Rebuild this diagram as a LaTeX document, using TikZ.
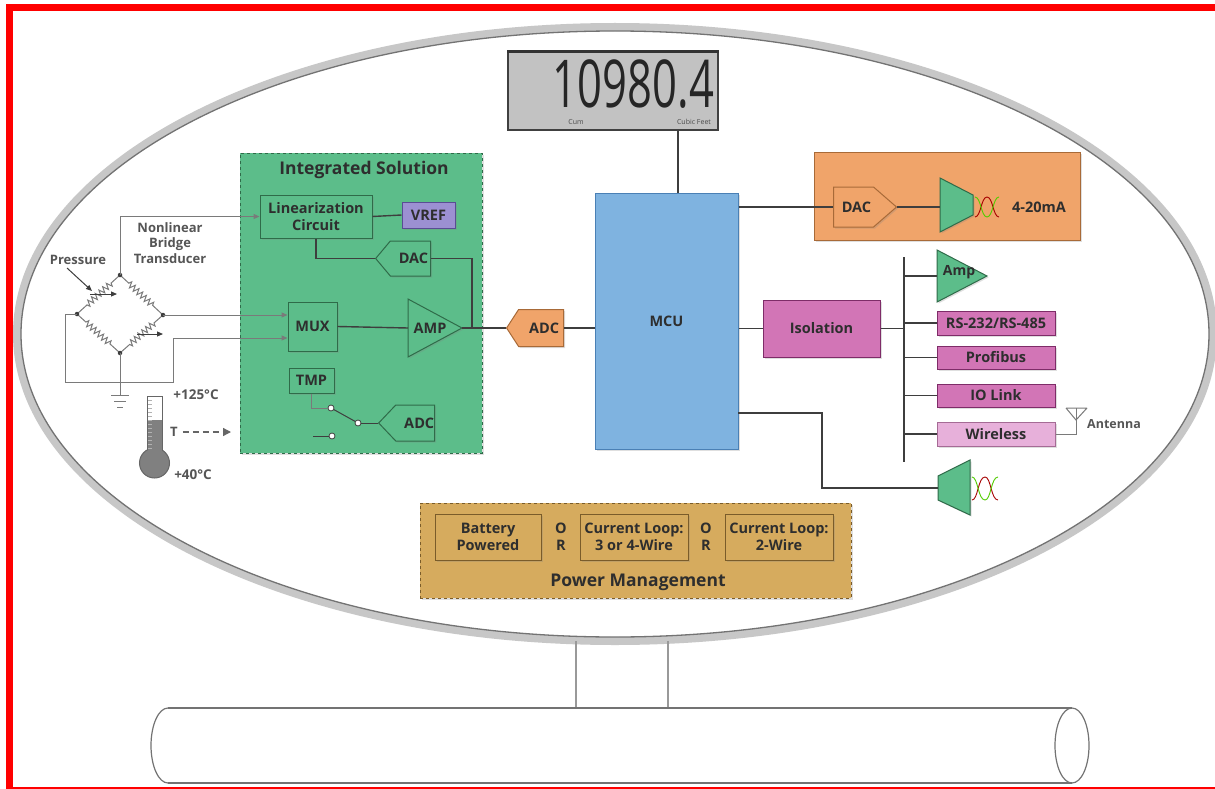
\documentclass[tikz,border=0pt]{standalone}
\usepackage{fontspec}
\setmainfont{Open Sans}
\usetikzlibrary{shapes.symbols,decorations.pathmorphing,arrows.meta,shadows}

\definecolor{grn}{HTML}{5CBD8A}
\definecolor{grnd}{HTML}{2F6B49}
\definecolor{vrefc}{HTML}{9C90D2}
\definecolor{vrefd}{HTML}{5A4C94}
\definecolor{mcuc}{HTML}{7FB3E0}
\definecolor{mcud}{HTML}{4A80B5}
\definecolor{org}{HTML}{F0A46A}
\definecolor{orgd}{HTML}{A86A38}
\definecolor{pnk}{HTML}{D275B6}
\definecolor{pnkd}{HTML}{7E2C68}
\definecolor{pnkl}{HTML}{E7B0DA}
\definecolor{gold}{HTML}{D6AB5E}
\definecolor{goldd}{HTML}{7A5C2A}
\definecolor{wirec}{HTML}{3E3E3E}
\definecolor{txt}{HTML}{2E2E2E}
\definecolor{lblc}{HTML}{555555}
\definecolor{bgray}{HTML}{7A7A7A}
\definecolor{lcdc}{HTML}{C2C2C2}

\tikzset{
  lab/.style={text=txt, font=\bfseries\fontsize{14.5}{17}\selectfont, align=center, inner sep=0},
  note/.style={text=lblc, font=\bfseries\fontsize{13}{15.5}\selectfont, align=center, inner sep=0},
  shd/.style={drop shadow={shadow xshift=1.5pt, shadow yshift=-1.5pt, opacity=0.25}},
  box/.style={lab, rectangle, line width=1, shd},
  gbox/.style={box, draw=grnd, fill=grn},
  pbox/.style={box, draw=pnkd, fill=pnk},
  ybox/.style={box, draw=goldd, fill=gold},
  sig/.style={lab, signal, signal from=nowhere, line width=1, shd},
  gshape/.style={draw=grnd, fill=grn, line width=1, shd},
  wire/.style={draw=wirec, line width=1.4},
  bwire/.style={draw=bgray, line width=1},
  arr/.style={-{Triangle[length=6,width=5]}},
  res/.style={bwire, decorate, decoration={zigzag, segment length=5, amplitude=3, pre length=12, post length=12}},
  sw/.style={circle, draw=wirec, fill=white, line width=0.8, inner sep=0, minimum size=6},
  dot/.style={circle, fill=wirec, inner sep=0, minimum size=4.5},
}

\begin{document}
\begin{tikzpicture}[x=1pt,y=-1pt]
\useasboundingbox (0,0) rectangle (1215,789);
\fill[white] (0,0) rectangle (1215,789);

% red frame
\fill[red] (6,4) rectangle (1215,11);
\fill[red] (6,4) rectangle (13,789);
\fill[red] (6,786.5) rectangle (1215,788.5);

% housing
\draw[line width=8, color=black!22] (615,334) ellipse [x radius=598, y radius=307];
\draw[line width=1.3, color=black!55] (615,334) ellipse [x radius=594, y radius=303];

% pipe and mounting
\draw[draw=black!40, line width=1.2] (576,641) -- (576,708) (668,641) -- (668,708);
\draw[draw=black!55, line width=1.2] (168,708) -- (1072,708) (168,783) -- (1072,783);
\draw[draw=black!55, line width=1.2] (168,708) arc[start angle=270, end angle=90, x radius=17, y radius=37.5];
\draw[draw=black!55, line width=1.2] (1072,745.5) ellipse [x radius=17, y radius=37.5];

% display
\node[draw=black!75, fill=lcdc, line width=1.5, minimum width=210, minimum height=78, inner sep=0] (lcd) at (613,91) {};
\draw[black!80, line width=3] (lcd.north west) -- (lcd.north east);
\node[inner sep=0, xscale=0.66, text=black!85, font=\fontsize{66}{66}\selectfont, anchor=base east] (digits) at (714,108) {10980.4};
\node[inner sep=0, text=black!70, font=\fontsize{7}{7}\selectfont] (cum) at (576,122) {Cum};
\node[inner sep=0, text=black!70, font=\fontsize{7}{7}\selectfont] (cuft) at (694,122) {Cubic Feet};

% MCU
\node[box, draw=mcud, fill=mcuc, minimum width=143, minimum height=256] (mcu) at (666.5,321) {MCU};
\coordinate (lcdport) at (678,130);
\draw[wire] (lcdport) -- (lcdport |- mcu.north);

% integrated solution block
\node[draw=grnd, dashed, line width=1, fill=grn, minimum width=242, minimum height=300, shd] (integ) at (361,303) {};
\node[lab, font=\bfseries\fontsize{17.5}{20}\selectfont] (intitle) at (364,170) {Integrated Solution};
\node[gbox, minimum width=112, minimum height=43] (lin) at (316,216.5) {Linearization\\Circuit};
\node[box, draw=vrefd, fill=vrefc, minimum width=53, minimum height=26] (vref) at (428.5,215) {VREF};
\node[sig, signal to=west, signal pointer angle=100, draw=grnd, fill=grn, minimum width=55, minimum height=35, anchor=west] (dac) at (375,258.5) {\hspace{6pt}DAC};
\node[gbox, minimum width=49, minimum height=49] (mux) at (312.5,326.5) {MUX};
\node[gbox, minimum width=45, minimum height=25] (tmp) at (311.5,380.5) {TMP};
\node[sig, signal to=west, signal pointer angle=93, draw=grnd, fill=grn, minimum width=56, minimum height=36, anchor=west] (adci) at (378,423) {\hspace{8pt}ADC};

% amplifier
\draw[gshape] (408,299) -- (462,328) -- (408,357) -- cycle;
\node[lab] (amp) at (430,328) {AMP};
\coordinate (ampin) at (408,328);
\coordinate (ampout) at (462,328);
\coordinate (jn) at (472,328);

\draw[wire] (lin.east) -- (vref.west);
\draw[wire] (lin.south) |- (dac.west);
\draw[wire] (dac.east) -| (jn);
\draw[wire] (mux.east) -- (ampin);

% temperature switch
\node[sw] (s1) at (331,408) {};
\node[sw] (s2) at (358,423) {};
\node[sw] (s3) at (332,436) {};
\coordinate (stub) at (313,436);
\draw[bwire] (tmp.south) |- (s1);
\draw[wirec, line width=1] (s1) -- (s2);
\draw[wirec, line width=1] (s2) -- (adci.west);
\draw[wirec, line width=1] (stub) -- (s3);

% main ADC
\node[sig, signal to=west, signal pointer angle=114, draw=orgd, fill=org, minimum width=57, minimum height=37, anchor=west] (adc) at (506,328) {\hspace{6pt}ADC};
\draw[wire] (ampout) -- (adc.west);
\draw[wire] (adc.east) -- (adc.east -| mcu.west);

% bridge transducer
\coordinate (bt) at (120,275);
\coordinate (bl) at (77,314);
\coordinate (br) at (163,315);
\coordinate (bb) at (120,353);
\draw[res] (bt) -- (bl);
\draw[res] (bt) -- (br);
\draw[res] (bl) -- (bb);
\draw[res] (br) -- (bb);
\node[dot] at (bt) {};
\node[dot] at (bl) {};
\node[dot] at (br) {};
\node[dot] at (bb) {};
\draw[bwire, arr] (bt) |- (lin.west);
\draw[bwire, arr] (br) -- (mux.west |- br);
\coordinate (w2) at (173,338);
\draw[bwire, arr] (bl) -| (65,382) -| (w2) -- (mux.west |- w2);
\draw[bwire] (bb) -- (120,395);
\draw[bwire] (111,395) -- (129,395) (114,401) -- (126,401) (117,407) -- (123,407);
\draw[wirec, line width=1, arr] (90,294) -- (117,294);
\draw[wirec, line width=1, arr] (137,334) -- (163,334);
\draw[wirec, line width=1, arr] (67,268) -- (92,291);
\node[note] (press) at (78,260) {Pressure};
\node[note] (bridge) at (170,243) {Nonlinear\\Bridge\\Transducer};

% thermometer
\draw[draw=black!60, line width=1, fill=white] (147,452) -- (147,396) -- (162,396) -- (162,452);
\draw[draw=black!60, line width=1, fill=black!50] (154.5,463) circle (15);
\fill[black!50] (148,420) rectangle (161.5,455);
\foreach \yy in {400,404,...,448} \draw[black!30, line width=0.5] (148,\yy) -- (152,\yy);
\node[note, font=\bfseries\fontsize{13.5}{15}\selectfont] (thi) at (196,395) {+125°C};
\node[note, font=\bfseries\fontsize{13.5}{15}\selectfont] (tlo) at (193,475) {+40°C};
\node[note] (tee) at (174,432) {T};
\draw[black!60, line width=1.3, dash pattern=on 6pt off 4pt, -{Triangle[length=8,width=8]}] (tee.east) ++(5,0) -- (231,432);

% 4-20 mA output
\node[box, draw=orgd, fill=org, minimum width=266, minimum height=88] (outbox) at (947,196) {};
\node[sig, signal to=east, signal pointer angle=82, draw=orgd, fill=org, minimum width=63, minimum height=40, anchor=west] (dacr) at (833,207) {\hspace{6pt}DAC};
\draw[gshape] (940,178) -- (973,195) -- (973,215) -- (940,232) -- cycle;
\coordinate (drv1) at (940,207);
\draw[red!65!black, line width=0.9] (975,217) .. controls (981,217) and (981,197) .. (987,197) .. controls (993,197) and (993,217) .. (999,217);
\draw[green!60!yellow!80!black, line width=0.9] (975,197) .. controls (981,197) and (981,217) .. (987,217) .. controls (993,217) and (993,197) .. (999,197);
\node[lab] (ma) at (1039,207) {4-20mA};
\draw[wire] (mcu.east |- dacr.west) -- (dacr.west);
\draw[wire] (dacr.east) -- (drv1);

% isolated interfaces
\node[pbox, minimum width=117, minimum height=57] (iso) at (821.5,328.5) {Isolation};
\coordinate (bus) at (904,257);
\coordinate (busend) at (904,462);
\draw[draw=wirec, line width=2.2] (bus) -- (busend);
\draw[wire] (mcu.east |- iso.west) -- (iso.west);
\draw[wire] (iso.east) -- (iso.east -| bus);

\draw[gshape] (937,250) -- (987,276) -- (937,302) -- cycle;
\node[lab, font=\bfseries\fontsize{14}{16}\selectfont] (amp2) at (959,272) {Amp};
\coordinate (amp2in) at (937,276);
\node[pbox, minimum width=118, minimum height=24] (rs) at (996,323) {RS-232/RS-485};
\node[pbox, minimum width=118, minimum height=23] (pfb) at (996,357.5) {Profibus};
\node[pbox, minimum width=118, minimum height=23] (iol) at (996,395.5) {IO Link};
\node[box, draw=pnkd!70, fill=pnkl, minimum width=118, minimum height=24] (wl) at (996,434) {Wireless};
\draw[wire] (bus |- amp2in) -- (amp2in);
\draw[wire] (bus |- rs.west) -- (rs.west);
\draw[wire] (bus |- pfb.west) -- (pfb.west);
\draw[wire] (bus |- iol.west) -- (iol.west);
\draw[wire] (bus |- wl.west) -- (wl.west);

% antenna
\coordinate (ant) at (1076,408);
\draw[bgray, line width=1] (wl.east) -| (ant);
\draw[bgray, line width=1] (1066,408) -- (1076,420) -- (1087,408) (1066,408) -- (1087,408);
\node[note, anchor=west, font=\bfseries\fontsize{12.5}{15}\selectfont] (antl) at (1087,424) {Antenna};

% second driver
\draw[gshape] (938,476) -- (970,460) -- (970,515) -- (938,500) -- cycle;
\coordinate (drv2) at (938,488);
\coordinate (m3) at (738,413);
\draw[wire] (m3) -- (822,413) |- (drv2);
\draw[red!65!black, line width=0.9] (972,500) .. controls (978,500) and (978,477) .. (985,477) .. controls (991,477) and (991,500) .. (998,500);
\draw[green!60!yellow!80!black, line width=0.9] (972,477) .. controls (978,477) and (978,500) .. (985,500) .. controls (991,500) and (991,477) .. (998,477);

% power management
\node[draw=goldd, dashed, line width=1, fill=gold, minimum width=431, minimum height=95, shd] (pm) at (635.5,550.5) {};
\node[lab, font=\bfseries\fontsize{17.5}{20}\selectfont] (pmt) at (638,582) {Power Management};
\node[ybox, minimum width=106, minimum height=46] (batt) at (488,537) {Battery\\Powered};
\node[ybox, minimum width=108, minimum height=46] (cl34) at (634,537) {Current Loop:\\3 or 4-Wire};
\node[ybox, minimum width=108, minimum height=46] (cl2) at (779,537) {Current Loop:\\2-Wire};
\node[lab] (or1) at (561,537) {O\\R};
\node[lab] (or2) at (706,537) {O\\R};
\end{tikzpicture}
\end{document}
